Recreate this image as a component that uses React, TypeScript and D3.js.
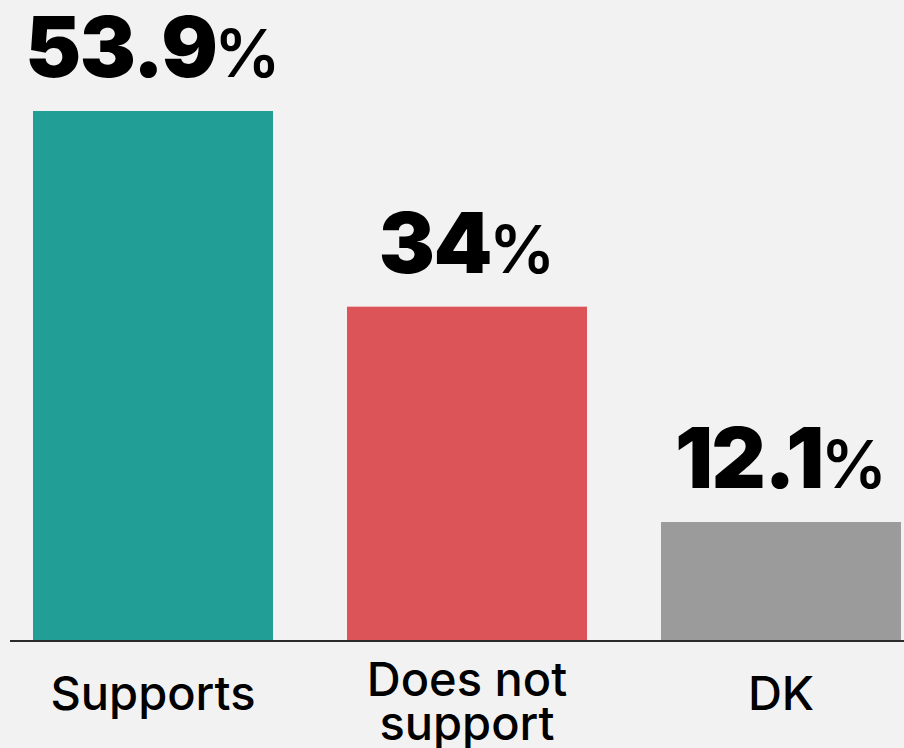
import { useEffect, useRef } from 'react';
import * as d3 from 'd3';

const categories = ['Supports', 'Does not support', 'DK'];
const categoryLines = [['Supports'], ['Does not', 'support'], ['DK']];
const values = [53.9, 34, 12.1];
const valueLabels = ['53.9', '34', '12.1'];
const colors = ['#219e95', '#dc5457', '#9b9b9b'];

const W = 904;
const H = 748;
const FONT = 'Inter, "Open Sans", sans-serif';

export default function App() {
  const svgRef = useRef<SVGSVGElement>(null);

  useEffect(() => {
    const svg = d3.select(svgRef.current);
    svg.selectAll('*').remove();

    const baseY = 641;
    const x = d3.scaleBand<string>().domain(categories).range([33, 901]).paddingInner(0.2357).paddingOuter(0);
    const y = d3.scaleLinear().domain([0, 53.9]).range([baseY, 111]);

    svg.append('rect').attr('width', W).attr('height', H).attr('fill', '#f3f2f2');

    // bars
    svg.selectAll('rect.bar')
      .data(categories)
      .enter()
      .append('rect')
      .attr('class', 'bar')
      .attr('x', d => x(d)!)
      .attr('y', (d, i) => y(values[i]))
      .attr('width', x.bandwidth())
      .attr('height', (d, i) => baseY - y(values[i]))
      .attr('fill', (d, i) => colors[i]);

    // baseline
    svg.append('line')
      .attr('x1', 10).attr('x2', W)
      .attr('y1', baseY).attr('y2', baseY)
      .attr('stroke', '#2b2b2b').attr('stroke-width', 2);

    // value labels
    const vl = svg.selectAll('text.val')
      .data(categories)
      .enter()
      .append('text')
      .attr('class', 'val')
      .attr('x', d => x(d)! + x.bandwidth() / 2)
      .attr('y', (d, i) => y(values[i]) - 34)
      .attr('text-anchor', 'middle')
      .attr('font-family', FONT)
      .attr('fill', '#000');
    vl.append('tspan')
      .attr('font-size', 84)
      .attr('font-weight', 900)
      .attr('letter-spacing', -1.5)
      .text((d, i) => valueLabels[i]);
    vl.append('tspan')
      .attr('font-size', 66)
      .attr('font-weight', 600)
      .attr('dx', -2)
      .text('%');

    // category labels
    const cl = svg.selectAll('text.cat')
      .data(categories)
      .enter()
      .append('text')
      .attr('class', 'cat')
      .attr('text-anchor', 'middle')
      .attr('font-family', FONT)
      .attr('font-size', 47)
      .attr('font-weight', 500)
      .attr('fill', '#000');
    cl.each(function (d, i) {
      const lines = categoryLines[i];
      const cx = x(d)! + x.bandwidth() / 2;
      const startY = lines.length > 1 ? 696 : 710;
      d3.select(this).selectAll('tspan')
        .data(lines)
        .enter()
        .append('tspan')
        .attr('x', cx)
        .attr('y', (l, j) => startY + j * 44)
        .text(l => l);
    });
  }, []);

  return (
    <svg
      ref={svgRef}
      width={W}
      height={H}
      style={{ position: 'absolute', top: 0, left: 0, display: 'block' }}
    />
  );
}
